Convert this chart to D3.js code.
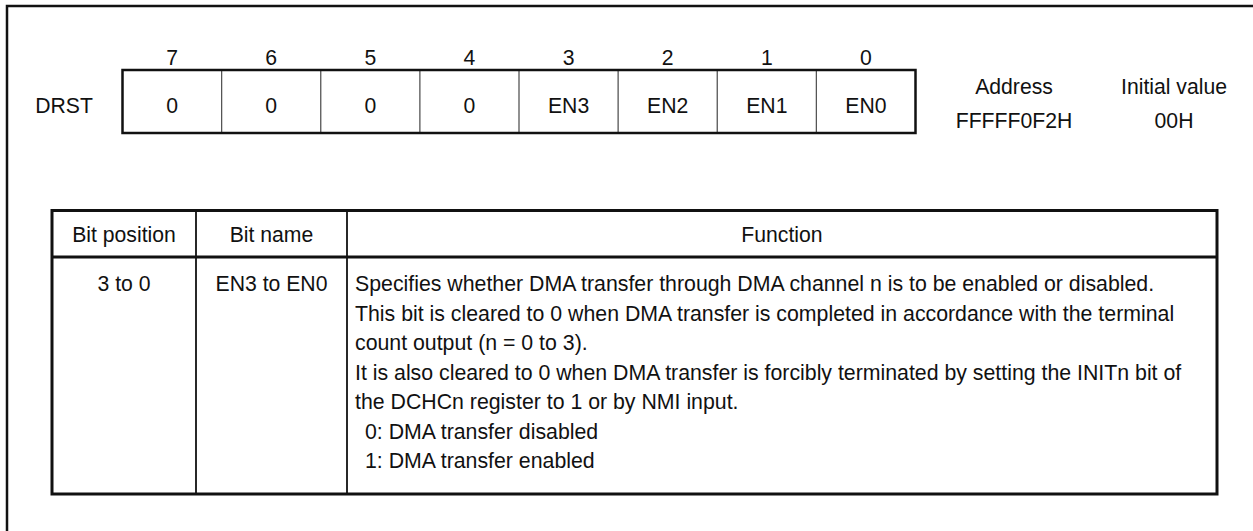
<!DOCTYPE html>
<html>
<head>
<meta charset="utf-8">
<script src="https://cdn.jsdelivr.net/npm/d3@7"></script>
<style>
  html, body { margin: 0; padding: 0; background: #fff; }
  svg { display: block; }
  text { font-family: "Liberation Sans", Arial, Helvetica, sans-serif; fill: #111; }
</style>
</head>
<body>
<svg id="chart" width="1253" height="531"></svg>
<script>
// ---- data ----
const registerName = "DRST";
const bits = [7, 6, 5, 4, 3, 2, 1, 0];
const bitNames = ["0", "0", "0", "0", "EN3", "EN2", "EN1", "EN0"];
const addressLines = ["Address", "FFFFF0F2H"];
const initialLines = ["Initial value", "00H"];
const headers = ["Bit position", "Bit name", "Function"];
const rowPositions = ["3 to 0"];
const rowNames = ["EN3 to EN0"];
const functionLines = [
  "Specifies whether DMA transfer through DMA channel n is to be enabled or disabled.",
  "This bit is cleared to 0 when DMA transfer is completed in accordance with the terminal",
  "count output (n = 0 to 3).",
  "It is also cleared to 0 when DMA transfer is forcibly terminated by setting the INITn bit of",
  "the DCHCn register to 1 or by NMI input.",
  "0: DMA transfer disabled",
  "1: DMA transfer enabled"
];
const functionIndent = [0, 0, 0, 0, 0, 1, 1];

// ---- drawing ----
const W = 1253, H = 531;
const FS = 21.2;
const FS_BODY = 21.3;
const svg = d3.select("#chart");
svg.append("rect").attr("width", W).attr("height", H).attr("fill", "#fff");

// outer frame (left and top edges)
svg.append("path")
  .attr("d", d3.line()([[7, H + 5], [7, 6], [W + 5, 6]]))
  .attr("fill", "none").attr("stroke", "#111").attr("stroke-width", 2.5);

// register
const regTop = 70, regBottom = 133;
const xReg = d3.scaleBand().domain(bits).range([122.5, 915.5]);
const regG = svg.append("g");

regG.selectAll("line.div")
  .data(bits.slice(1))
  .join("line")
  .attr("x1", d => xReg(d)).attr("x2", d => xReg(d))
  .attr("y1", regTop).attr("y2", regBottom)
  .attr("stroke", "#555").attr("stroke-width", 1.3);

regG.append("rect")
  .attr("x", xReg.range()[0]).attr("y", regTop)
  .attr("width", xReg.range()[1] - xReg.range()[0]).attr("height", regBottom - regTop)
  .attr("fill", "none").attr("stroke", "#111").attr("stroke-width", 2.5);

regG.selectAll("text.bitnum")
  .data(bits)
  .join("text")
  .attr("x", d => xReg(d) + xReg.bandwidth() / 2)
  .attr("y", 65)
  .attr("text-anchor", "middle").attr("font-size", FS)
  .text(d => d);

regG.selectAll("text.bitname")
  .data(bits.map((b, i) => ({ b, name: bitNames[i] })))
  .join("text")
  .attr("x", d => xReg(d.b) + xReg.bandwidth() / 2)
  .attr("y", 112.5)
  .attr("text-anchor", "middle").attr("font-size", FS)
  .text(d => d.name);

svg.append("text").attr("x", 64).attr("y", 112.5)
  .attr("text-anchor", "middle").attr("font-size", FS).text(registerName);

const yInfo = d3.scalePoint().domain([0, 1]).range([94, 128]);
svg.selectAll("text.addr").data(addressLines).join("text")
  .attr("x", 1014).attr("y", (d, i) => yInfo(i))
  .attr("text-anchor", "middle").attr("font-size", FS).text(d => d);
svg.selectAll("text.init").data(initialLines).join("text")
  .attr("x", 1174).attr("y", (d, i) => yInfo(i))
  .attr("text-anchor", "middle").attr("font-size", FS).text(d => d);

// table
const colX = [52, 196, 347, 1217];
const tTop = 210.5, tHead = 257, tBottom = 494;
const tG = svg.append("g");

tG.selectAll("line.col").data([colX[1], colX[2]]).join("line")
  .attr("x1", d => d).attr("x2", d => d)
  .attr("y1", tTop).attr("y2", tBottom)
  .attr("stroke", "#111").attr("stroke-width", 1.8);
tG.append("line").attr("x1", colX[0]).attr("x2", colX[3])
  .attr("y1", tHead).attr("y2", tHead)
  .attr("stroke", "#111").attr("stroke-width", 3);
tG.append("rect").attr("x", colX[0]).attr("y", tTop)
  .attr("width", colX[3] - colX[0]).attr("height", tBottom - tTop)
  .attr("fill", "none").attr("stroke", "#111").attr("stroke-width", 3);

tG.selectAll("text.hdr").data(headers).join("text")
  .attr("x", (d, i) => (colX[i] + colX[i + 1]) / 2)
  .attr("y", 242)
  .attr("text-anchor", "middle").attr("font-size", FS).text(d => d);

const yLine = d3.scaleLinear().domain([0, functionLines.length - 1]).range([291, 468]);

tG.selectAll("text.pos").data(rowPositions).join("text")
  .attr("x", (colX[0] + colX[1]) / 2).attr("y", yLine(0))
  .attr("text-anchor", "middle").attr("font-size", FS).text(d => d);
tG.selectAll("text.nm").data(rowNames).join("text")
  .attr("x", (colX[1] + colX[2]) / 2).attr("y", yLine(0))
  .attr("text-anchor", "middle").attr("font-size", FS).text(d => d);

tG.selectAll("text.fn").data(functionLines).join("text")
  .attr("x", (d, i) => colX[2] + 8 + functionIndent[i] * 10)
  .attr("y", (d, i) => yLine(i))
  .attr("font-size", FS_BODY)
  .text(d => d);
</script>
</body>
</html>
